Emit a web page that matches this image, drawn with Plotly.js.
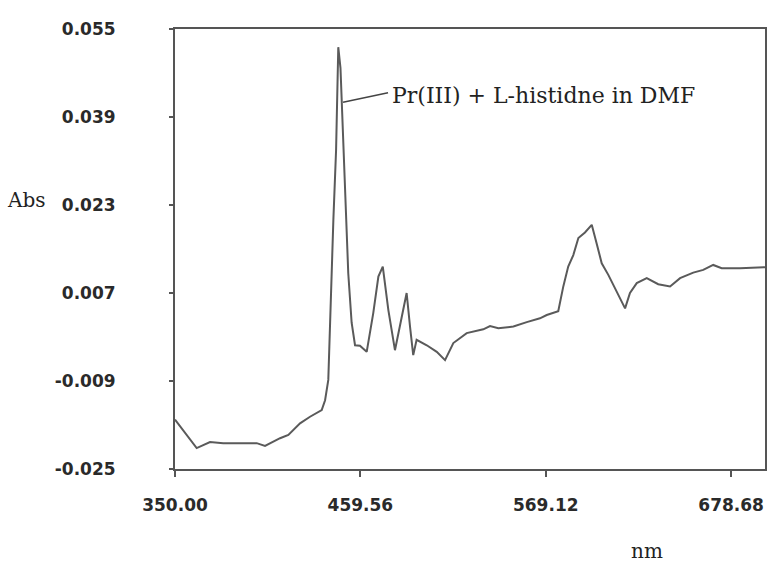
<!DOCTYPE html>
<html>
<head>
<meta charset="utf-8">
<script src="https://cdn.plot.ly/plotly-3.0.1.min.js"></script>
<style>html,body{margin:0;padding:0;background:#fff;}#chart{width:775px;height:564px;}</style>
</head>
<body>
<div id="chart"></div>
<script>
// Wavelength (nm) and absorbance
const wavelength = [350.0, 362.8, 370.7, 378.5, 398.3, 403.2, 412.1, 417.0, 423.9, 429.8,
  436.7, 438.7, 440.6, 441.6, 442.6, 443.6, 445.2, 445.9, 446.5, 447.8,
  448.5, 449.5, 451.1, 452.4, 454.4, 456.4, 459.3, 463.3, 467.2, 470.2,
  472.8, 476.1, 480.0, 484.0, 486.9, 488.9, 490.8, 492.8, 498.8, 504.7,
  509.6, 514.5, 522.4, 532.2, 536.2, 541.1, 550.0, 557.9, 565.7, 569.7,
  576.5, 579.5, 582.4, 585.4, 588.4, 592.3, 596.3, 599.2, 602.2, 606.1,
  611.0, 616.0, 618.9, 622.9, 628.8, 635.6, 642.6, 648.5, 656.3, 662.2,
  668.1, 673.1, 683.9, 698.7];
const absorbance = [-0.0160, -0.0212, -0.0201, -0.0203, -0.0203, -0.0208, -0.0194, -0.0188, -0.0167, -0.0155,
  -0.0143, -0.0125, -0.0088, 0.0021, 0.0112, 0.0203, 0.0330, 0.0445, 0.0517, 0.0479,
  0.0427, 0.0330, 0.0203, 0.0106, 0.0016, -0.0025, -0.0026, -0.0037, 0.0034, 0.0100,
  0.0118, 0.0039, -0.0034, 0.0027, 0.0070, 0.0009, -0.0043, -0.0015, -0.0025, -0.0037,
  -0.0052, -0.0021, -0.0003, 0.0004, 0.0010, 0.0006, 0.0009, 0.0017, 0.0024, 0.0030,
  0.0037, 0.0082, 0.0118, 0.0139, 0.0170, 0.0180, 0.0194, 0.0160, 0.0124, 0.0103,
  0.0072, 0.0042, 0.0070, 0.0088, 0.0097, 0.0086, 0.0082, 0.0097, 0.0107, 0.0112,
  0.0121, 0.0115, 0.0115, 0.0117];

const xTickVals = [350.00, 459.56, 569.12, 678.68];
const xTickText = ["350.00", "459.56", "569.12", "678.68"];
const yTickVals = [-0.025, -0.009, 0.007, 0.023, 0.039, 0.055];
const yTickText = ["-0.025", "-0.009", "0.007", "0.023", "0.039", "0.055"];

const tickFont = {family: "DejaVu Sans", size: 17, color: "#2a2a2a", weight: "bold"};
const serifFont = {family: "DejaVu Serif", size: 20, color: "#222"};

const trace = {
  x: wavelength, y: absorbance, type: "scatter", mode: "lines",
  line: {color: "#5a5a5a", width: 2}, hoverinfo: "skip"
};

const layout = {
  width: 775, height: 564,
  margin: {l: 175, r: 10, t: 29, b: 95},
  paper_bgcolor: "#fff", plot_bgcolor: "#fff",
  showlegend: false,
  xaxis: {
    range: [350, 698.7], tickvals: xTickVals, ticktext: xTickText,
    showgrid: false, zeroline: false, showline: true, mirror: true,
    linecolor: "#555", linewidth: 2, ticks: "outside", ticklen: 6, tickcolor: "#555", tickwidth: 2,
    tickfont: tickFont, ticklabelstandoff: 14
  },
  yaxis: {
    range: [-0.025, 0.055], tickvals: yTickVals, ticktext: yTickText,
    showgrid: false, zeroline: false, showline: true, mirror: true,
    linecolor: "#555", linewidth: 2, ticks: "outside", ticklen: 4, tickcolor: "#555", tickwidth: 2,
    tickfont: tickFont, ticklabelstandoff: 50
  },
  shapes: [{
    type: "line", xref: "x", yref: "y",
    x0: 449.3, y0: 0.0417, x1: 475.9, y1: 0.0434,
    line: {color: "#444", width: 1.5}
  }],
  annotations: [
    {text: "Pr(III) + L-histidne in DMF", xref: "paper", yref: "paper", x: 0.3644, y: 0.85,
     xanchor: "left", yanchor: "middle", showarrow: false, font: {family: "DejaVu Serif", size: 22, color: "#222"}},
    {text: "Abs", xref: "paper", yref: "paper", x: -0.2525, y: 0.611,
     xanchor: "center", yanchor: "middle", showarrow: false, font: serifFont},
    {text: "nm", xref: "paper", yref: "paper", x: 0.8, y: -0.186,
     xanchor: "center", yanchor: "middle", showarrow: false, font: serifFont}
  ]
};

Plotly.newPlot("chart", [trace], layout, {displayModeBar: false, staticPlot: true});
</script>
</body>
</html>
